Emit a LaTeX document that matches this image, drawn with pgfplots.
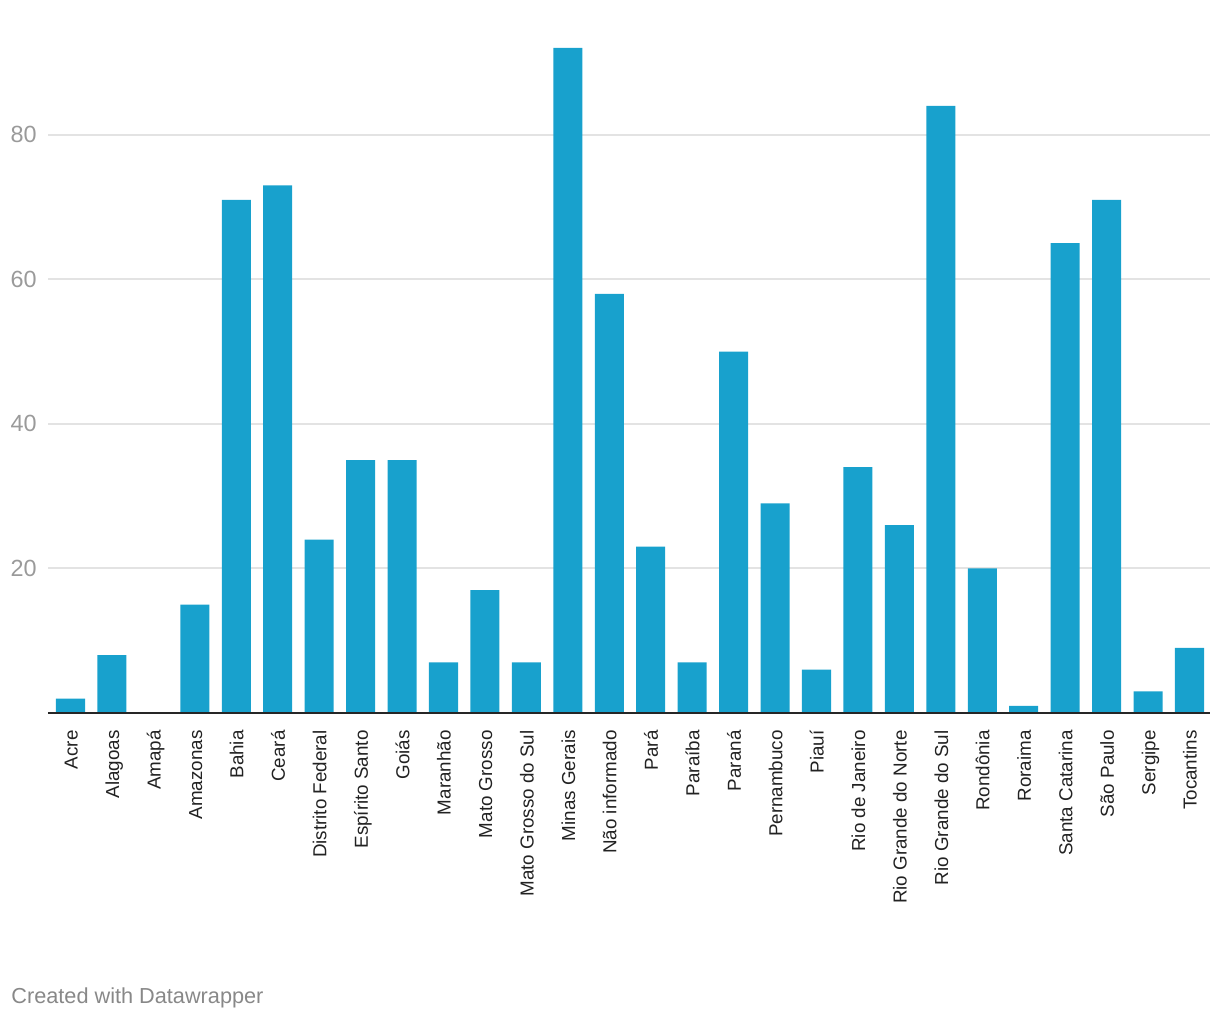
\documentclass[border=0pt]{standalone}
\usepackage{pgfplots}
\pgfplotsset{compat=1.18}
\usepackage{fontspec}
\setmainfont{Liberation Sans}
\definecolor{barblue}{HTML}{18A1CD}
\definecolor{gridgray}{HTML}{E3E3E3}
\definecolor{ticklab}{HTML}{9A9A9A}
\definecolor{catlab}{HTML}{222222}
\definecolor{credit}{HTML}{888888}
\begin{document}
\begin{tikzpicture}
\path[use as bounding box] (-24pt,-153.5pt) rectangle (586pt,356.5pt);
\begin{axis}[
  at={(0pt,0pt)}, anchor=south west,
  scale only axis,
  width=581pt, height=332.5pt,
  xmin=-0.543, xmax=27.495,
  ymin=0, ymax=92,
  ybar, bar width=0.7,
  axis line style={draw=none},
  axis x line*=bottom,
  ytick={20,40,60,80},
  ymajorgrids, grid style={gridgray, line width=1pt},
  major tick length=0pt,
  /pgf/number format/assume math mode=true,
  yticklabel style={font=\fontsize{11.7pt}{13pt}\selectfont, text=ticklab, inner sep=0pt, xshift=-5.5pt},
  xtick={0,...,27},
  xticklabels={Acre,Alagoas,Amapá,Amazonas,Bahia,Ceará,Distrito Federal,Espírito Santo,Goiás,Maranhão,Mato Grosso,Mato Grosso do Sul,Minas Gerais,Não informado,Pará,Paraíba,Paraná,Pernambuco,Piauí,Rio de Janeiro,Rio Grande do Norte,Rio Grande do Sul,Rondônia,Roraima,Santa Catarina,São Paulo,Sergipe,Tocantins},
  xticklabel style={font=\fontsize{9.4pt}{11pt}\selectfont, text=catlab, rotate=90, anchor=east, inner sep=0pt, text height=0.72em, text depth=0pt},
  xticklabel shift=8.5pt,
  clip=false,
]
\addplot[fill=barblue, draw=none] coordinates {
(0,2) (1,8) (2,0) (3,15) (4,71) (5,73) (6,24) (7,35) (8,35) (9,7)
(10,17) (11,7) (12,92) (13,58) (14,23) (15,7) (16,50) (17,29) (18,6) (19,34)
(20,26) (21,84) (22,20) (23,1) (24,65) (25,71) (26,3) (27,9)
};
\draw[line width=1pt, color=black!85] (rel axis cs:0,0) -- (rel axis cs:1,0);
\end{axis}
\node[anchor=base west, inner sep=0pt, text=credit, font=\fontsize{10.85pt}{13pt}\selectfont] at (-18.5pt,-145.5pt) {Created with Datawrapper};
\end{tikzpicture}
\end{document}
